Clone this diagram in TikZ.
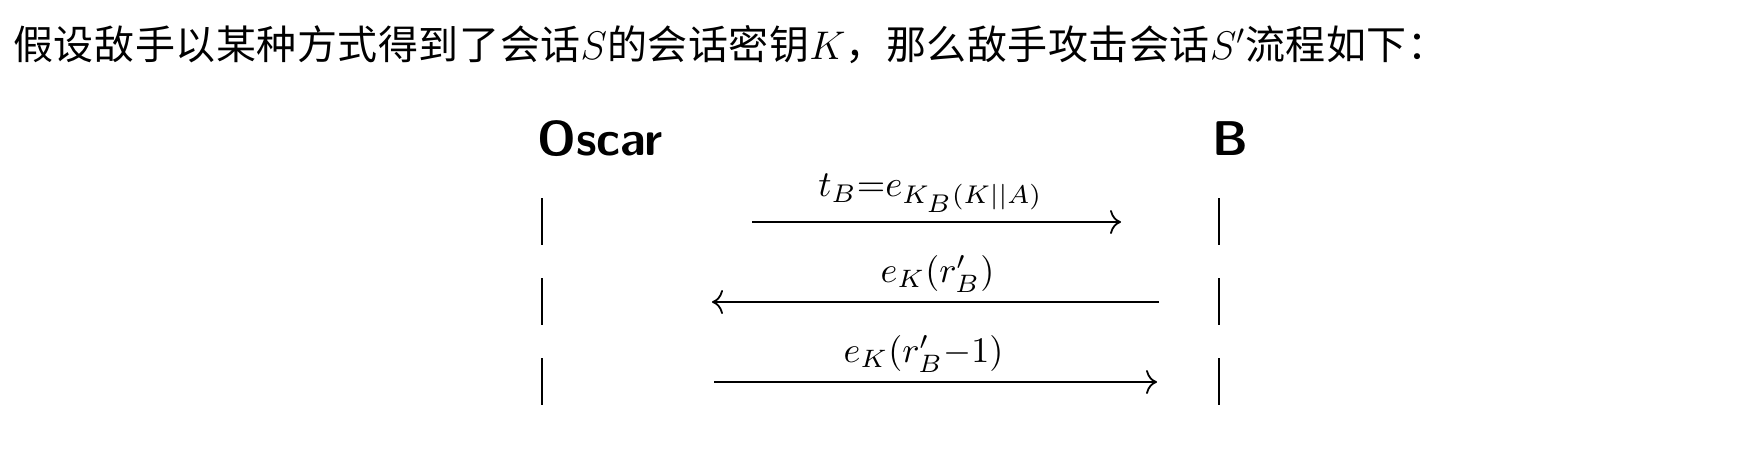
\RequirePackage{fix-cm}
\documentclass[tikz,border=0pt]{standalone}
\usepackage{graphicx}
\usepackage{fontspec}
\newfontfamily\cjk[LetterSpace=1.4]{Noto Sans CJK SC}
\usetikzlibrary{arrows.meta}
\newcommand{\bigmath}[2][1.85]{\scalebox{#1}{$#2$}}
\begin{document}
\begin{tikzpicture}[x=0.5pt,y=-0.5pt,
  lifeline/.style={line width=1pt},
  msg/.style={line width=0.9pt,-{To[length=5.5pt,width=12pt]}},
  lbl/.style={inner sep=0pt,above=4.5pt},
  actor/.style={inner sep=0pt,anchor=base west,font=\fontsize{24.4}{28}\selectfont\sffamily\bfseries}]
\useasboundingbox (0,0) rectangle (1753,457);
\node[inner sep=0pt,anchor=base west,font=\fontsize{20}{24}\selectfont\cjk] (title) at (13,59)
  {假设敌手以某种方式得到了会话$S$的会话密钥$K$，那么敌手攻击会话$S'$流程如下：};
\node[actor] (oscar) at (537,155) {Oscar};
\node[actor] (bob) at (1212,155) {B};
% lifelines
\coordinate (o1a) at (542,198); \coordinate (o1b) at (542,245);
\coordinate (o2a) at (542,278); \coordinate (o2b) at (542,325);
\coordinate (o3a) at (542,358); \coordinate (o3b) at (542,405);
\coordinate (b1a) at (1219,198); \coordinate (b1b) at (1219,245);
\coordinate (b2a) at (1219,278); \coordinate (b2b) at (1219,325);
\coordinate (b3a) at (1219,358); \coordinate (b3b) at (1219,405);
\draw[lifeline] (o1a) -- (o1b) (o2a) -- (o2b) (o3a) -- (o3b);
\draw[lifeline] (b1a) -- (b1b) (b2a) -- (b2b) (b3a) -- (b3b);
% messages
\coordinate (m1s) at (752,222); \coordinate (m1e) at (1121,222);
\coordinate (m2s) at (1159,302); \coordinate (m2e) at (712,302);
\coordinate (m3s) at (714,382); \coordinate (m3e) at (1157,382);
\draw[msg] (m1s) -- (m1e) node[lbl,midway,xshift=-3pt] (l1) {\bigmath[1.83]{t_B{=}e_{K_{\scriptstyle B}(K||A)}}};
\draw[msg] (m2s) -- (m2e) node[lbl,midway,xshift=1pt] (l2) {\bigmath[1.8]{e_K(r'_B)}};
\draw[msg] (m3s) -- (m3e) node[lbl,midway,xshift=-6pt] (l3) {\bigmath[1.8]{e_K(r'_B{-}1)}};
\end{tikzpicture}
\end{document}
